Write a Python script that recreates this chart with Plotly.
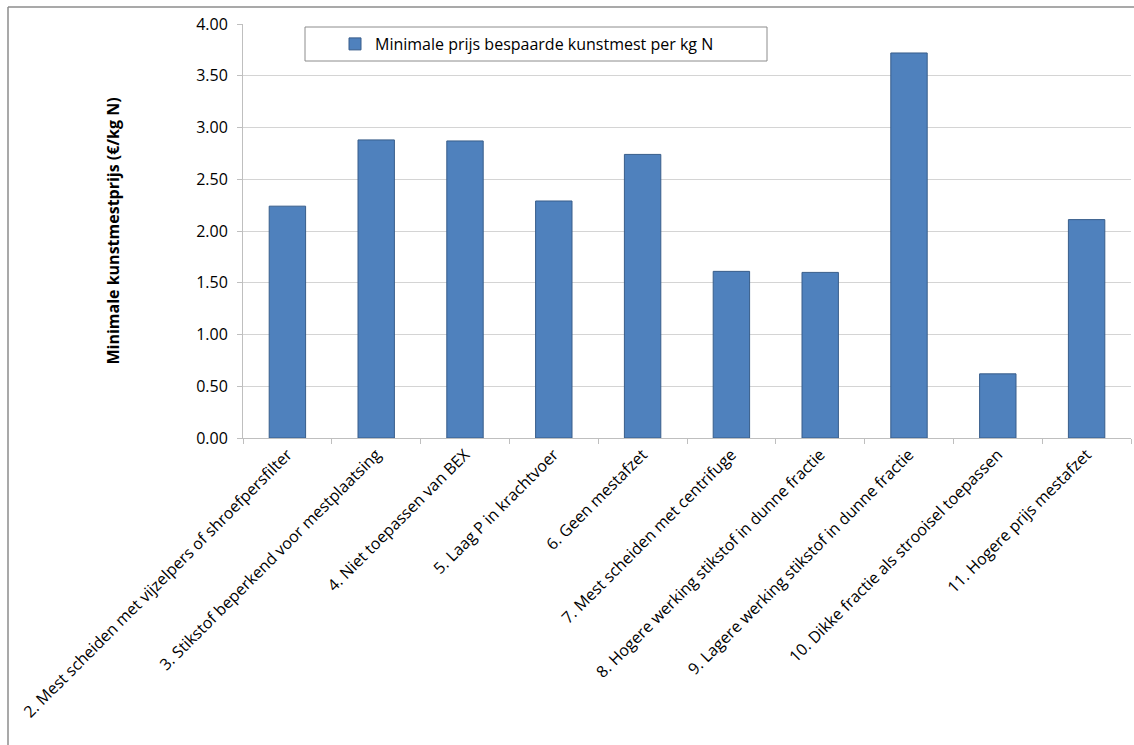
import plotly.graph_objects as go

categories = [
    "2. Mest scheiden met vijzelpers of shroefpersfilter",
    "3. Stikstof beperkend voor mestplaatsing",
    "4. Niet toepassen van BEX",
    "5. Laag P in krachtvoer",
    "6. Geen mestafzet",
    "7. Mest scheiden met centrifuge",
    "8. Hogere werking stikstof in dunne fractie",
    "9. Lagere werking stikstof in dunne fractie",
    "10. Dikke fractie als strooisel toepassen",
    "11. Hogere prijs mestafzet",
]
values = [2.24, 2.88, 2.87, 2.29, 2.74, 1.61, 1.60, 3.72, 0.62, 2.11]
series_name = "Minimale prijs bespaarde kunstmest per kg N"
y_title = "Minimale kunstmestprijs (€/kg N)"
y_ticks = [0, 0.5, 1.0, 1.5, 2.0, 2.5, 3.0, 3.5, 4.0]

FONT = "'Open Sans', sans-serif"
FS = 16

fig = go.Figure()
fig.add_trace(go.Bar(
    x=categories, y=values, name=series_name,
    marker=dict(color="#4f81bd", line=dict(color="#385d8a", width=1)),
    showlegend=True,
))

L, R, T, B = 243, 3, 24, 307
W, H = 1134, 745
pw, ph = W - L - R, H - T - B

def px(x):
    return (x - L) / pw

def py(y):
    return (H - B - y) / ph

fig.update_layout(
    width=W, height=H,
    margin=dict(l=L, r=R, t=T, b=B, pad=0),
    paper_bgcolor="white", plot_bgcolor="white",
    font=dict(family=FONT, size=FS, color="#000000"),
    bargap=0.59,
    showlegend=True,
    legend=dict(
        x=px(335), y=py(44), xanchor="left", yanchor="middle",
        bgcolor="rgba(0,0,0,0)", borderwidth=0,
        font=dict(family=FONT, size=FS, color="#000"),
    ),
    xaxis=dict(
        tickangle=-45, showline=True, linecolor="#bfbfbf", linewidth=1,
        ticks="outside", ticklen=5, tickcolor="#bfbfbf",
        tickson="boundaries", showgrid=False, zeroline=False,
        tickfont=dict(family=FONT, size=FS, color="#000"),
    ),
    yaxis=dict(
        range=[0, 4], tickvals=y_ticks, tickformat=".2f",
        showline=True, linecolor="#bfbfbf", linewidth=1,
        ticks="outside", ticklen=5, tickcolor="#bfbfbf",
        ticklabelstandoff=6,
        showgrid=True, gridcolor="#d4d4d4", gridwidth=1,
        zeroline=False,
        tickfont=dict(family=FONT, size=FS, color="#000"),
        title=dict(text="<b>" + y_title + "</b>", font=dict(family=FONT, size=FS, color="#000"), standoff=72),
    ),
    shapes=[
        # outer chart frame: top and left edges
        dict(type="line", xref="paper", yref="paper",
             x0=px(8), x1=px(1134), y0=py(7), y1=py(7),
             line=dict(color="#8c8c8c", width=1.5), layer="below"),
        dict(type="line", xref="paper", yref="paper",
             x0=px(8), x1=px(8), y0=py(7), y1=py(745),
             line=dict(color="#8c8c8c", width=1.5), layer="below"),
        # legend box
        dict(type="rect", xref="paper", yref="paper",
             x0=px(305), x1=px(767), y0=py(61), y1=py(27),
             line=dict(color="#8c8c8c", width=1), fillcolor="white", layer="below"),
    ],
)

fig.write_html("out.html", config={"displayModeBar": False})
